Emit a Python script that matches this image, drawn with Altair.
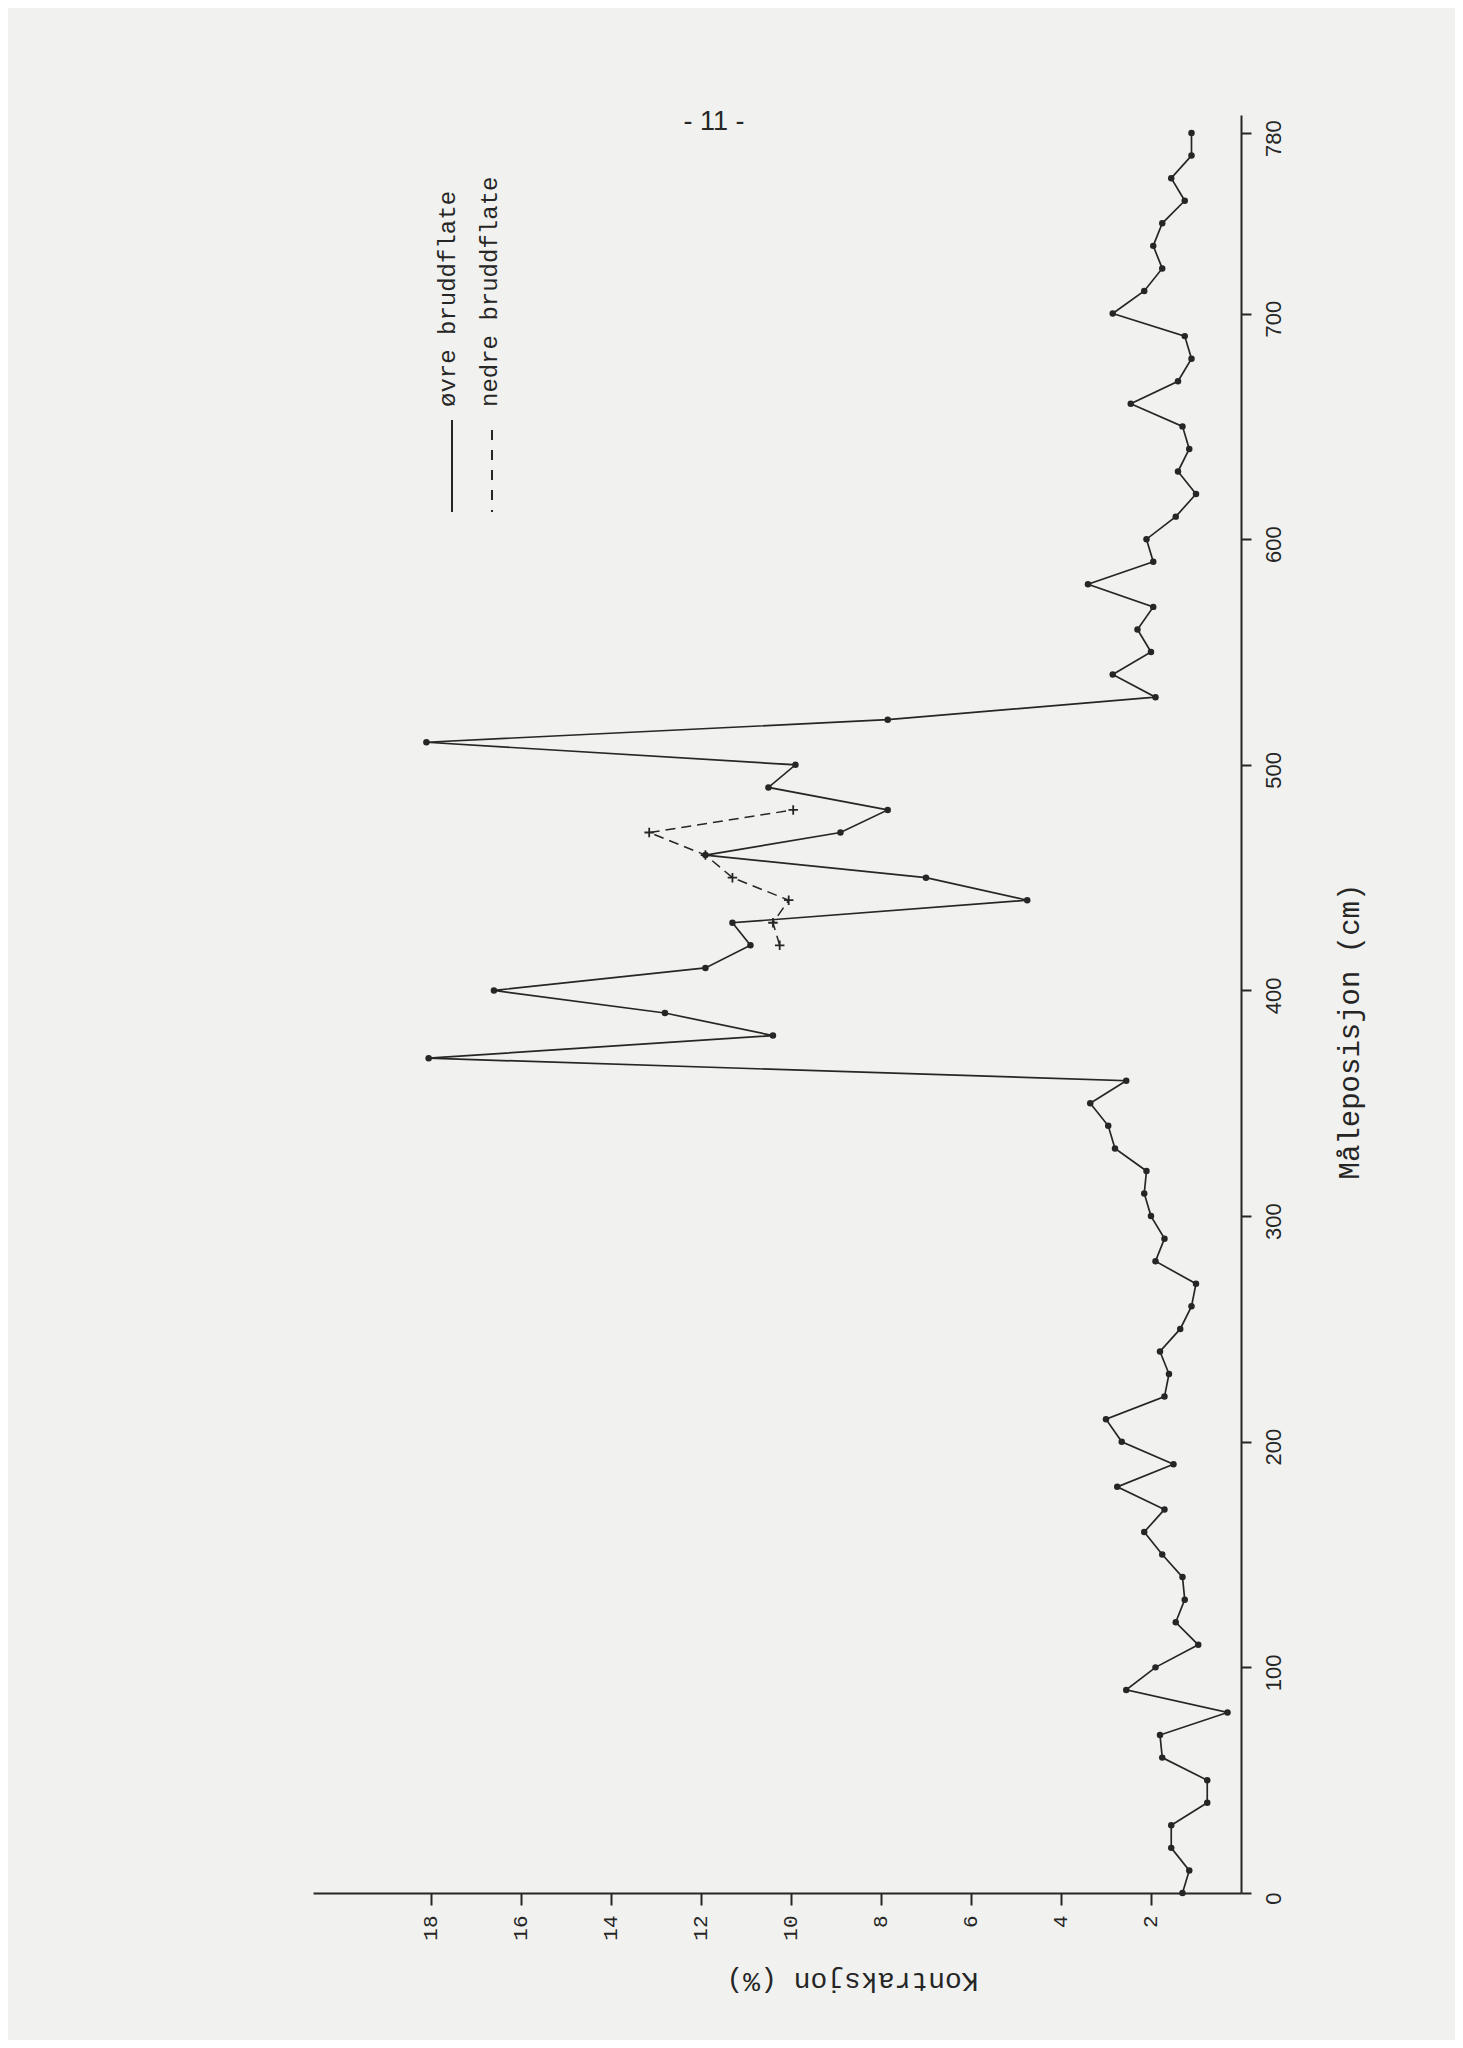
import altair as alt
import pandas as pd

# Måleposisjon (cm) for the upper fracture surface series
positions = list(range(0, 790, 10))
# Kontraksjon, øvre bruddflate
ovre = [1.3, 1.15, 1.55, 1.55, 0.75, 0.75, 1.75, 1.8, 0.3, 2.55,
        1.9, 0.95, 1.45, 1.25, 1.3, 1.75, 2.15, 1.7, 2.75, 1.5,
        2.65, 3.0, 1.7, 1.6, 1.8, 1.35, 1.1, 1.0, 1.9, 1.7,
        2.0, 2.15, 2.1, 2.8, 2.95, 3.35, 2.55, 18.05, 10.4, 12.8,
        16.6, 11.9, 10.9, 11.3, 4.75, 7.0, 11.9, 8.9, 7.85, 10.5,
        9.9, 18.1, 7.85, 1.9, 2.85, 2.0, 2.3, 1.95, 3.4, 1.95,
        2.1, 1.45, 1.0, 1.4, 1.15, 1.3, 2.45, 1.4, 1.1, 1.25,
        2.85, 2.15, 1.75, 1.95, 1.75, 1.25, 1.55, 1.1, 1.1]
# nedre bruddflate
nedre_pos = [420, 430, 440, 450, 460, 470, 480]
nedre = [10.25, 10.4, 10.05, 11.3, 11.9, 13.15, 9.95]

x_ticks = [2, 4, 6, 8, 10, 12, 14, 16, 18]
y_ticks = [0, 100, 200, 300, 400, 500, 600, 700, 780]
legend_labels = ["øvre bruddflate", "nedre bruddflate"]
page_label = ["- 11 -"]

INK = "#262626"
MONO = "Liberation Mono"
SANS = "Liberation Sans"

df1 = pd.DataFrame({"pos": positions, "val": ovre})
df2 = pd.DataFrame({"pos": nedre_pos, "val": nedre})

x_enc = alt.X(
    "val:Q",
    scale=alt.Scale(domain=[0, 20.62], reverse=True, nice=False, zero=False),
    axis=alt.Axis(
        orient="bottom", values=x_ticks, format="d", grid=False,
        domainColor=INK, domainWidth=2, tickColor=INK, tickWidth=2, tickSize=12,
        labelAngle=270, labelAlign="right", labelBaseline="middle",
        labelPadding=10, labelFont=MONO, labelFontSize=21, labelColor=INK,
        title="Kontraksjon (%)", titleFont=MONO, titleFontSize=28,
        titleFontWeight="normal", titleColor=INK, titleAngle=180,
        titleAlign="center", titleBaseline="middle", titleX=539, titleY=87,
    ),
)
y_enc = alt.Y(
    "pos:Q",
    scale=alt.Scale(domain=[0, 788], nice=False, zero=False),
    axis=alt.Axis(
        orient="right", values=y_ticks, format="d", grid=False,
        domainColor=INK, domainWidth=2, tickColor=INK, tickWidth=2, tickSize=10,
        labelAngle=270, labelAlign="center", labelBaseline="top",
        labelPadding=12, labelFont=SANS, labelFontSize=22, labelColor=INK,
        labelOffset=5,
        title="Måleposisjon (cm)", titleFont=MONO, titleFontSize=29,
        titleFontWeight="normal", titleColor=INK, titleAngle=270,
        titleAlign="center", titleBaseline="middle", titleX=108, titleY=916,
    ),
)

line1 = alt.Chart(df1).mark_line(color=INK, strokeWidth=1.7).encode(
    x=x_enc, y=y_enc, order="pos:Q")
pts1 = alt.Chart(df1).mark_circle(color=INK, size=42, opacity=1).encode(
    x=x_enc, y=y_enc)
line2 = alt.Chart(df2).mark_line(color=INK, strokeWidth=1.5, strokeDash=[10, 6]).encode(
    x=x_enc, y=y_enc, order="pos:Q")
pts2 = alt.Chart(df2).mark_point(
    shape="M-1,0L1,0M0,-1L0,1", filled=False, color=INK, strokeWidth=1.8,
    size=90, opacity=1).encode(x=x_enc, y=y_enc)

one = pd.DataFrame({"a": [0]})
leg_rule1 = alt.Chart(one).mark_rule(color=INK, strokeWidth=2).encode(
    x=alt.value(139), y=alt.value(305), y2=alt.value(397))
leg_rule2 = alt.Chart(one).mark_rule(color=INK, strokeWidth=2, strokeDash=[10, 10]).encode(
    x=alt.value(179), y=alt.value(315), y2=alt.value(397))
leg_txt1 = alt.Chart(pd.DataFrame({"t": [legend_labels[0]]})).mark_text(
    angle=270, align="left", baseline="middle", font=MONO, fontSize=24, color=INK
).encode(text="t:N", x=alt.value(135), y=alt.value(292))
leg_txt2 = alt.Chart(pd.DataFrame({"t": [legend_labels[1]]})).mark_text(
    angle=270, align="left", baseline="middle", font=MONO, fontSize=24, color=INK
).encode(text="t:N", x=alt.value(177), y=alt.value(292))
page_txt = alt.Chart(pd.DataFrame({"t": page_label})).mark_text(
    align="center", baseline="middle", font=SANS, fontSize=27, color=INK
).encode(text="t:N", x=alt.value(401), y=alt.value(7))

chart = alt.layer(
    line1, pts1, line2, pts2, leg_rule1, leg_rule2, leg_txt1, leg_txt2, page_txt
).properties(
    width=928, height=1778,
    autosize=alt.AutoSizeParams(type="none"),
    padding={"left": 305, "top": 107, "right": 214, "bottom": 147},
).configure(background="#f1f2ef").configure_view(stroke=None, strokeWidth=0)

chart.save("out.html", embed_options={"renderer": "svg", "actions": False})
